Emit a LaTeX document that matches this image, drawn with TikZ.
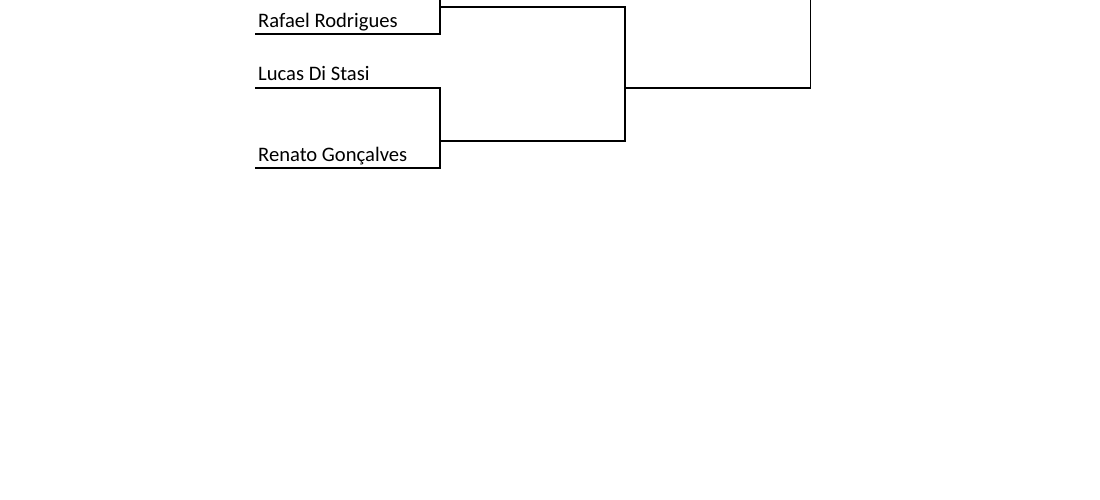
\documentclass[tikz,border=0pt]{standalone}
\usepackage{fontspec}
\setmainfont{Carlito}
\begin{document}
\begin{tikzpicture}[x=1pt,y=-1pt,
  bline/.style={line width=1.7pt, line join=miter},
  pname/.style={anchor=base west, inner sep=0pt, font=\fontsize{20.6}{24}\selectfont}]
\useasboundingbox (0,0) rectangle (1100,500);
\clip (0,0) rectangle (1100,500);
% names
\node[pname] (rafael) at (258,27.5) {Rafael Rodrigues};
\node[pname] (lucas) at (258,81) {Lucas Di Stasi};
\node[pname] (renato) at (258,161.5) {Renato Gonçalves};
% bracket points
\coordinate (rafL) at (255,34);
\coordinate (rafR) at (440,34);
\coordinate (topA) at (440,-5);
\coordinate (semiAL) at (440,7);
\coordinate (semiAR) at (625,7);
\coordinate (lucL) at (255,88);
\coordinate (lucR) at (440,88);
\coordinate (renL) at (255,168);
\coordinate (renR) at (440,168);
\coordinate (semiBL) at (440,141);
\coordinate (semiBR) at (625,141);
\coordinate (finL) at (625,88);
\coordinate (finR) at (810.5,88);
\coordinate (topB) at (810.5,-5);
% connectors
\draw[bline] (rafL) -- (rafR) -- (topA);
\draw[bline] (semiAL) -- (semiAR) -- (semiBR) -- (semiBL);
\draw[bline] (lucL) -- (lucR) -- (renR) -- (renL);
\draw[bline] (finL) -- (finR) -- (topB);
\end{tikzpicture}
\end{document}
